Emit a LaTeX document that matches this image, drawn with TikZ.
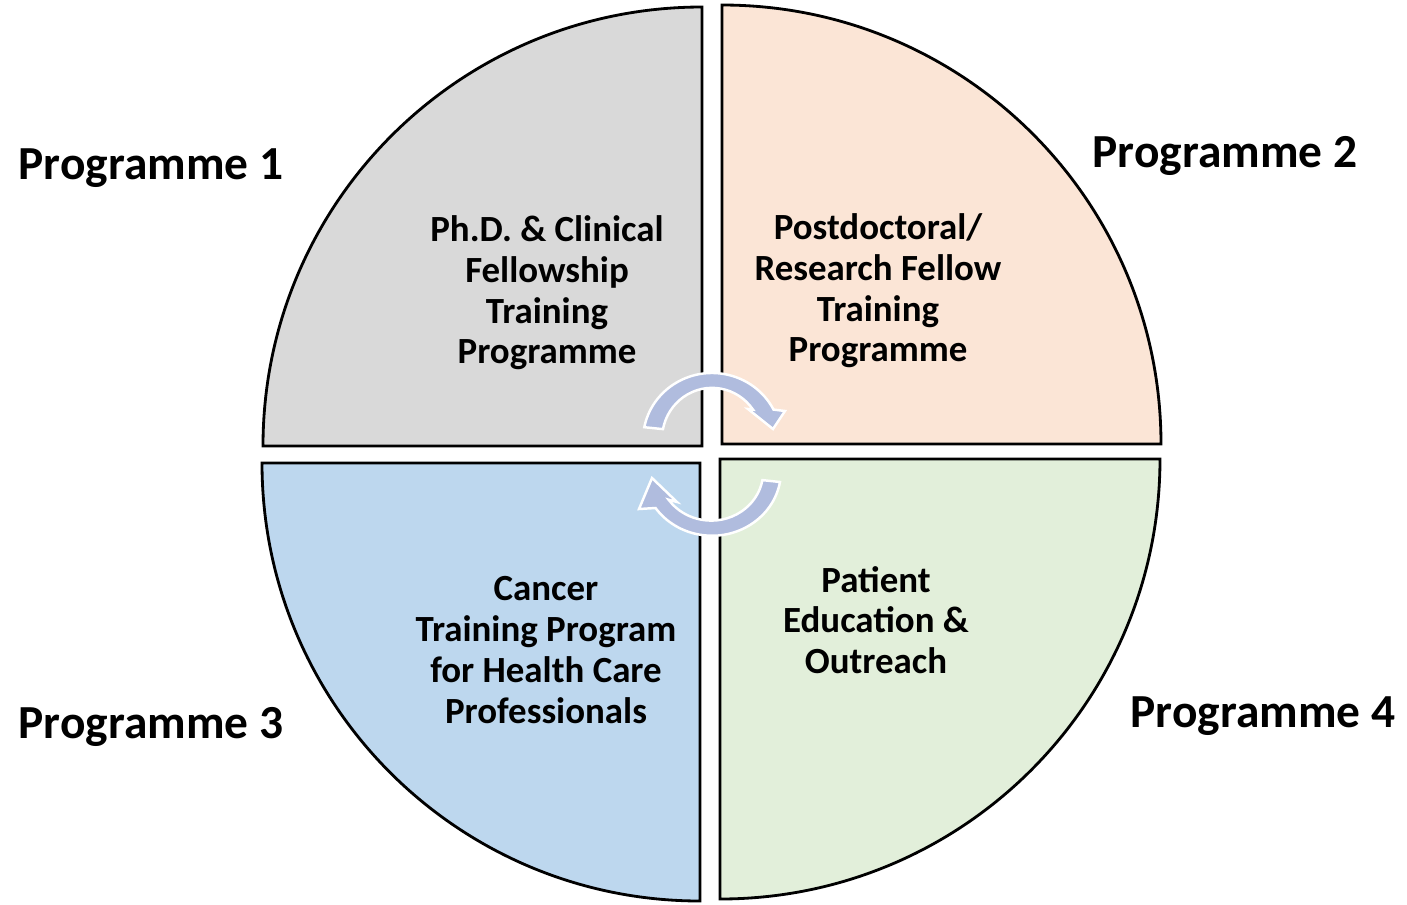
\documentclass[tikz,border=0pt]{standalone}
\usepackage{fontspec}
\setmainfont{Carlito}
\definecolor{quadgray}{RGB}{217,217,217}
\definecolor{quadpeach}{RGB}{251,229,214}
\definecolor{quadblue}{RGB}{189,215,238}
\definecolor{quadgreen}{RGB}{226,239,218}
\definecolor{cyclefill}{RGB}{176,188,222}
\tikzset{
  quad/.style={draw=black, line width=1.6pt, line join=miter},
  proglabel/.style={font=\bfseries\fontsize{27}{30}\selectfont},
  desc/.style={font=\bfseries\fontsize{21}{23.2}\selectfont, align=center},
  cyclearrow/.style={fill=cyclefill, draw=white, line width=1.4pt}
}

\begin{document}
\begin{tikzpicture}[x=0.02cm, y=-0.02cm]
\useasboundingbox (0,0) rectangle (1407,904);

% four quadrants
\draw[quad, fill=quadgray] (702,446) -- (263,446) arc[start angle=180, end angle=270, radius=439] -- cycle;
\draw[quad, fill=quadpeach] (722,444) -- (722,5) arc[start angle=270, end angle=360, radius=439] -- cycle;
\draw[quad, fill=quadblue] (700,463) -- (262,463) arc[start angle=180, end angle=90, radius=438] -- cycle;
\draw[quad, fill=quadgreen] (720,459) -- (1160,459) arc[start angle=0, end angle=90, radius=440] -- cycle;

% circular arrows
\filldraw[cyclearrow] (644.3,427.2) arc[start angle=191, end angle=333, x radius=69, y radius=67]
  -- (785,411) -- (773,429) -- (748,409) -- (753,409.6)
  arc[start angle=325, end angle=191, x radius=50, y radius=51] -- cycle;
\filldraw[cyclearrow] (780,482) arc[start angle=10, end angle=145, x radius=69, y radius=65]
  -- (639,509) -- (652,478) -- (677,502) -- (668.6,499.7)
  arc[start angle=145, end angle=10, x radius=52, y radius=49] -- cycle;

% labels
\node[proglabel] (prog1) at (151,168) {Programme 1};
\node[proglabel] (prog2) at (1225,156) {Programme 2};
\node[proglabel] (prog3) at (151,727) {Programme 3};
\node[proglabel] (prog4) at (1263,716) {Programme 4};

\node[desc] (phd) at (547,293) {Ph.D. \& Clinical\\Fellowship\\Training\\Programme};
\node[desc] (postdoc) at (878,291) {Postdoctoral/\\Research Fellow\\Training\\Programme};
\node[desc] (cancer) at (546,650) {Cancer\\Training Program\\for Health Care\\Professionals};
\node[desc] (patient) at (876,620) {Patient\\Education \&\\Outreach};

\end{tikzpicture}
\end{document}
